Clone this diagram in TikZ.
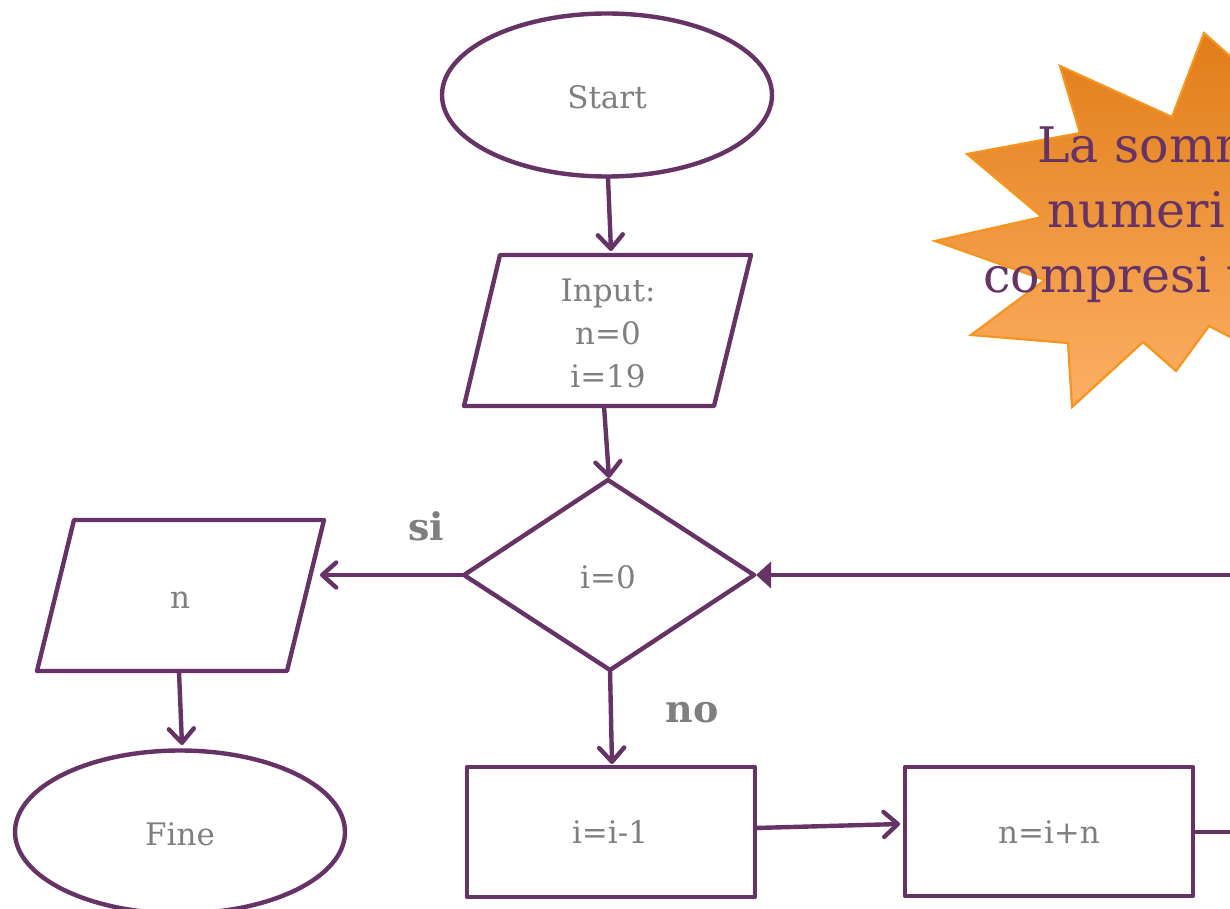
\documentclass[tikz,border=0pt]{standalone}
\usepackage{fontspec}
\setmainfont{DejaVu Serif}
\usetikzlibrary{shapes.geometric,arrows.meta}
\definecolor{plum}{HTML}{663366}
\definecolor{txtgray}{HTML}{7F7F7F}
\definecolor{startop}{HTML}{E07D18}
\definecolor{starbot}{HTML}{FDAF64}
\definecolor{starline}{HTML}{F7941D}
\tikzset{
  shapeline/.style={draw=plum, line width=4.4pt, line join=round},
  lbl/.style={text=txtgray, font=\fontsize{31}{43}\selectfont, align=center, inner sep=0pt},
  biglbl/.style={text=txtgray, font=\bfseries\fontsize{38}{46}\selectfont, inner sep=0pt},
  flow/.style={draw=plum, line width=4.4pt, line cap=round,
    -{Straight Barb[length=14pt,width=25pt,line cap=round,line join=round]}},
  flowtri/.style={draw=plum, line width=4.4pt,
    -{Triangle[length=15pt,width=26pt]}},
  plain/.style={draw=plum, line width=4.4pt},
  startext/.style={text=plum, font=\fontsize{49}{65}\selectfont, inner sep=0pt, anchor=base west}
}
\begin{document}
\begin{tikzpicture}[x=1pt,y=-1pt]
\useasboundingbox (0,0) rectangle (1230,909);
\clip (0,0) rectangle (1230,909);

% starburst
\shade[top color=startop, bottom color=starbot, draw=starline, line width=2.2pt, line join=miter]
  (1204,33) -- (1240,65) -- (1240,342) -- (1209,326) -- (1176,371) -- (1143,342)
  -- (1072,407) -- (1068,343) -- (971,335) -- (1045,280) -- (935,241) -- (1042,217)
  -- (967,154) -- (1080,133) -- (1060,66) -- (1172,117) -- cycle;
\node[startext] (st1) at (1037,163) {La somma};
\node[startext] (st2) at (1047,228) {numeri};
\node[startext] (st3) at (983,292) {compresi tra};

% Start
\node[shapeline, ellipse, minimum width=330pt, minimum height=163pt, inner sep=0pt] (start) at (607,95) {};
\node[lbl] (starttxt) at (607,97) {Start};

% Input parallelogram
\draw[shapeline] (500,255) -- (751,255) -- (714,406) -- (464,406) -- cycle;
\node[lbl] (input) at (608,333) {Input:\\n=0\\i=19};

% decision diamond
\draw[shapeline] (608,480) -- (754,575) -- (610,670) -- (464,575) -- cycle;
\node[lbl] (cond) at (608,577) {i=0};

% output n
\draw[shapeline] (74,520) -- (324,520) -- (287,671) -- (37,671) -- cycle;
\node[lbl] (outn) at (180,600) {n};

% Fine
\node[shapeline, ellipse, minimum width=330pt, minimum height=163pt, inner sep=0pt] (fine) at (180,832) {};
\node[lbl] (finetxt) at (180,834) {Fine};

% boxes
\draw[shapeline] (467,767) rectangle (755,897);
\node[lbl] (dec) at (610,832) {i=i-1};
\draw[shapeline] (905,767) rectangle (1193,896);
\node[lbl] (sum) at (1049,832) {n=i+n};

% labels
\node[biglbl] (si) at (426,526) {si};
\node[biglbl] (no) at (692,713) {no};

% connector points
\coordinate (startB) at (608,178);
\coordinate (inpT) at (611,251);
\coordinate (inpB) at (604,406);
\coordinate (diaT) at (609,478);
\coordinate (diaL) at (464,575);
\coordinate (diaR) at (756,575);
\coordinate (diaB) at (610,670);
\coordinate (outR) at (320,575);
\coordinate (outB) at (179,671);
\coordinate (fineT) at (182,745);
\coordinate (decT) at (612,764);
\coordinate (decR) at (755,828);
\coordinate (sumL) at (900,824);
\coordinate (sumR) at (1193,832);
\coordinate (offR) at (1240,832);
\coordinate (backR) at (1240,575);

\draw[flow] (startB) -- (inpT);
\draw[flow] (inpB) -- (diaT);
\draw[flow] (diaL) -- (outR);
\draw[flow] (outB) -- (fineT);
\draw[flow] (diaB) -- (decT);
\draw[flow] (decR) -- (sumL);
\draw[plain] (sumR) -- (offR);
\draw[flowtri] (backR) -- (diaR);
\end{tikzpicture}
\end{document}
